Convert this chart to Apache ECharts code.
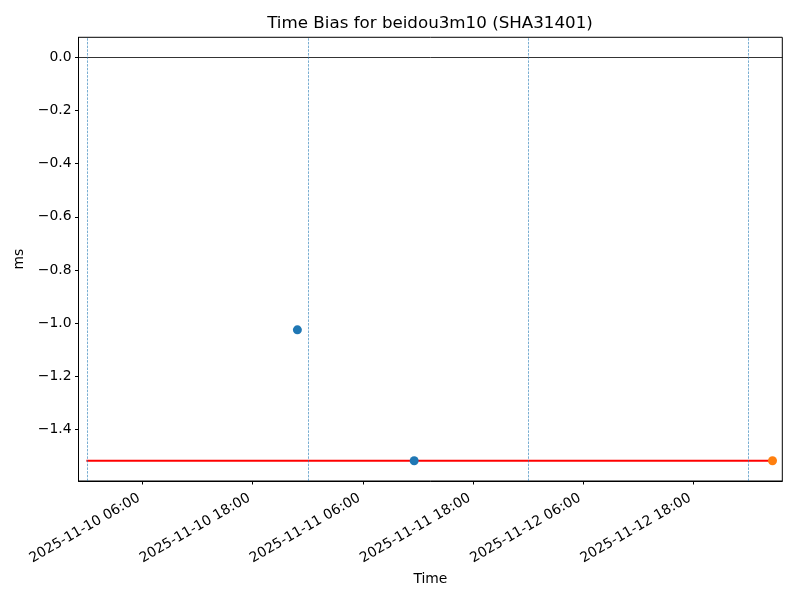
<!DOCTYPE html>
<html><head><meta charset="utf-8">
<script src="https://cdn.jsdelivr.net/npm/echarts@6/dist/echarts.min.js"></script>
<style>html,body{margin:0;padding:0;background:#fff}#c{width:800px;height:600px}</style>
</head><body><div id="c"></div>
<script>
const chartTitle = 'Time Bias for beidou3m10 (SHA31401)';
const xName = 'Time';
const yName = 'ms';
const blueTimes = ['2025-11-10 22:52', '2025-11-11 11:35'];
const blueValues = [-1.025, -1.518];
const orangeTimes = ['2025-11-13 02:36'];
const orangeValues = [-1.518];
const thresholdTimes = ['2025-11-10 00:00', '2025-11-13 02:36'];
const thresholdValues = [-1.518, -1.518];
const dayLineTimes = ['2025-11-10 00:00', '2025-11-11 00:00', '2025-11-12 00:00', '2025-11-13 00:00'];
const xTickLabels = ['2025-11-10 06:00', '2025-11-10 18:00', '2025-11-11 06:00', '2025-11-11 18:00', '2025-11-12 06:00', '2025-11-12 18:00'];
const yTickValues = [0, -0.2, -0.4, -0.6, -0.8, -1.0, -1.2, -1.4];
const xRange = ['2025-11-09 23:02', '2025-11-13 03:40'];
const yRange = [-1.594, 0.0759];

function ms(s) { return Date.parse(s.replace(' ', 'T') + ':00Z'); }
const xTickValues = xTickLabels.map(ms);
const labelMap = {};
xTickLabels.forEach(l => { labelMap[ms(l)] = l; });
const FONT = 'DejaVu Sans';
const chart = echarts.init(document.getElementById('c'), null, {renderer: 'canvas'});
chart.setOption({
  animation: false,
  backgroundColor: '#fff',
  title: {
    text: chartTitle, left: 425, top: 10, textAlign: 'center',
    textStyle: {fontFamily: FONT, fontSize: 16.7, fontWeight: 'normal', color: '#000'}
  },
  grid: {left: 78.5, right: 17.7, top: 37.3, bottom: 119, show: true, borderColor: '#000', borderWidth: 1, outerBoundsMode: 'none', containLabel: false},
  xAxis: {
    type: 'value', min: ms(xRange[0]), max: ms(xRange[1]),
    name: xName, nameLocation: 'middle', nameGap: 87,
    nameTextStyle: {fontFamily: FONT, fontSize: 13.9, color: '#000'},
    axisLine: {show: true, onZero: false, lineStyle: {color: '#000', width: 1}},
    axisTick: {show: true, length: 3.5, customValues: xTickValues, lineStyle: {color: '#000', width: 1}},
    axisLabel: {customValues: xTickValues, rotate: 30, margin: 14, padding: [0, 4, 0, 0],
      fontFamily: FONT, fontSize: 13.9, color: '#000', formatter: v => labelMap[v] || ''},
    splitLine: {show: false}
  },
  yAxis: {
    type: 'value', min: yRange[0], max: yRange[1],
    name: yName, nameLocation: 'middle', nameGap: 44, nameRotate: 90,
    nameTextStyle: {fontFamily: FONT, fontSize: 13.9, color: '#000'},
    axisLine: {show: true, onZero: false, lineStyle: {color: '#000', width: 1}},
    axisTick: {show: true, length: 3.5, customValues: yTickValues, lineStyle: {color: '#000', width: 1}},
    axisLabel: {customValues: yTickValues, margin: 7, fontFamily: FONT, fontSize: 13.9, color: '#000',
      formatter: v => (Math.abs(v) < 1e-9 ? 0 : v).toFixed(1).replace('-', '\u2212')},
    splitLine: {show: false}
  },
  series: [
    {
      type: 'line', z: 2, showSymbol: false, silent: true,
      data: thresholdTimes.map((t, i) => [ms(t), thresholdValues[i]]),
      lineStyle: {color: '#ff0000', width: 2, cap: 'square'}
    },
    {
      type: 'line', z: 3, data: [], silent: true,
      markLine: {
        silent: true, symbol: 'none', animation: false, label: {show: false},
        data: [
          {yAxis: 0, lineStyle: {color: '#000', width: 0.8, type: 'solid'}},
          ...dayLineTimes.map(t => ({xAxis: ms(t), lineStyle: {color: '#1f77b4', opacity: 0.75, width: 0.8, type: [2.5, 1.2]}}))
        ]
      }
    },
    {
      type: 'scatter', z: 4, symbolSize: 9, silent: true,
      itemStyle: {color: '#1f77b4', opacity: 1},
      data: blueTimes.map((t, i) => [ms(t), blueValues[i]])
    },
    {
      type: 'scatter', z: 4, symbolSize: 9, silent: true,
      itemStyle: {color: '#ff7f0e', opacity: 1},
      data: orangeTimes.map((t, i) => [ms(t), orangeValues[i]])
    }
  ]
});
</script>
</body></html>
